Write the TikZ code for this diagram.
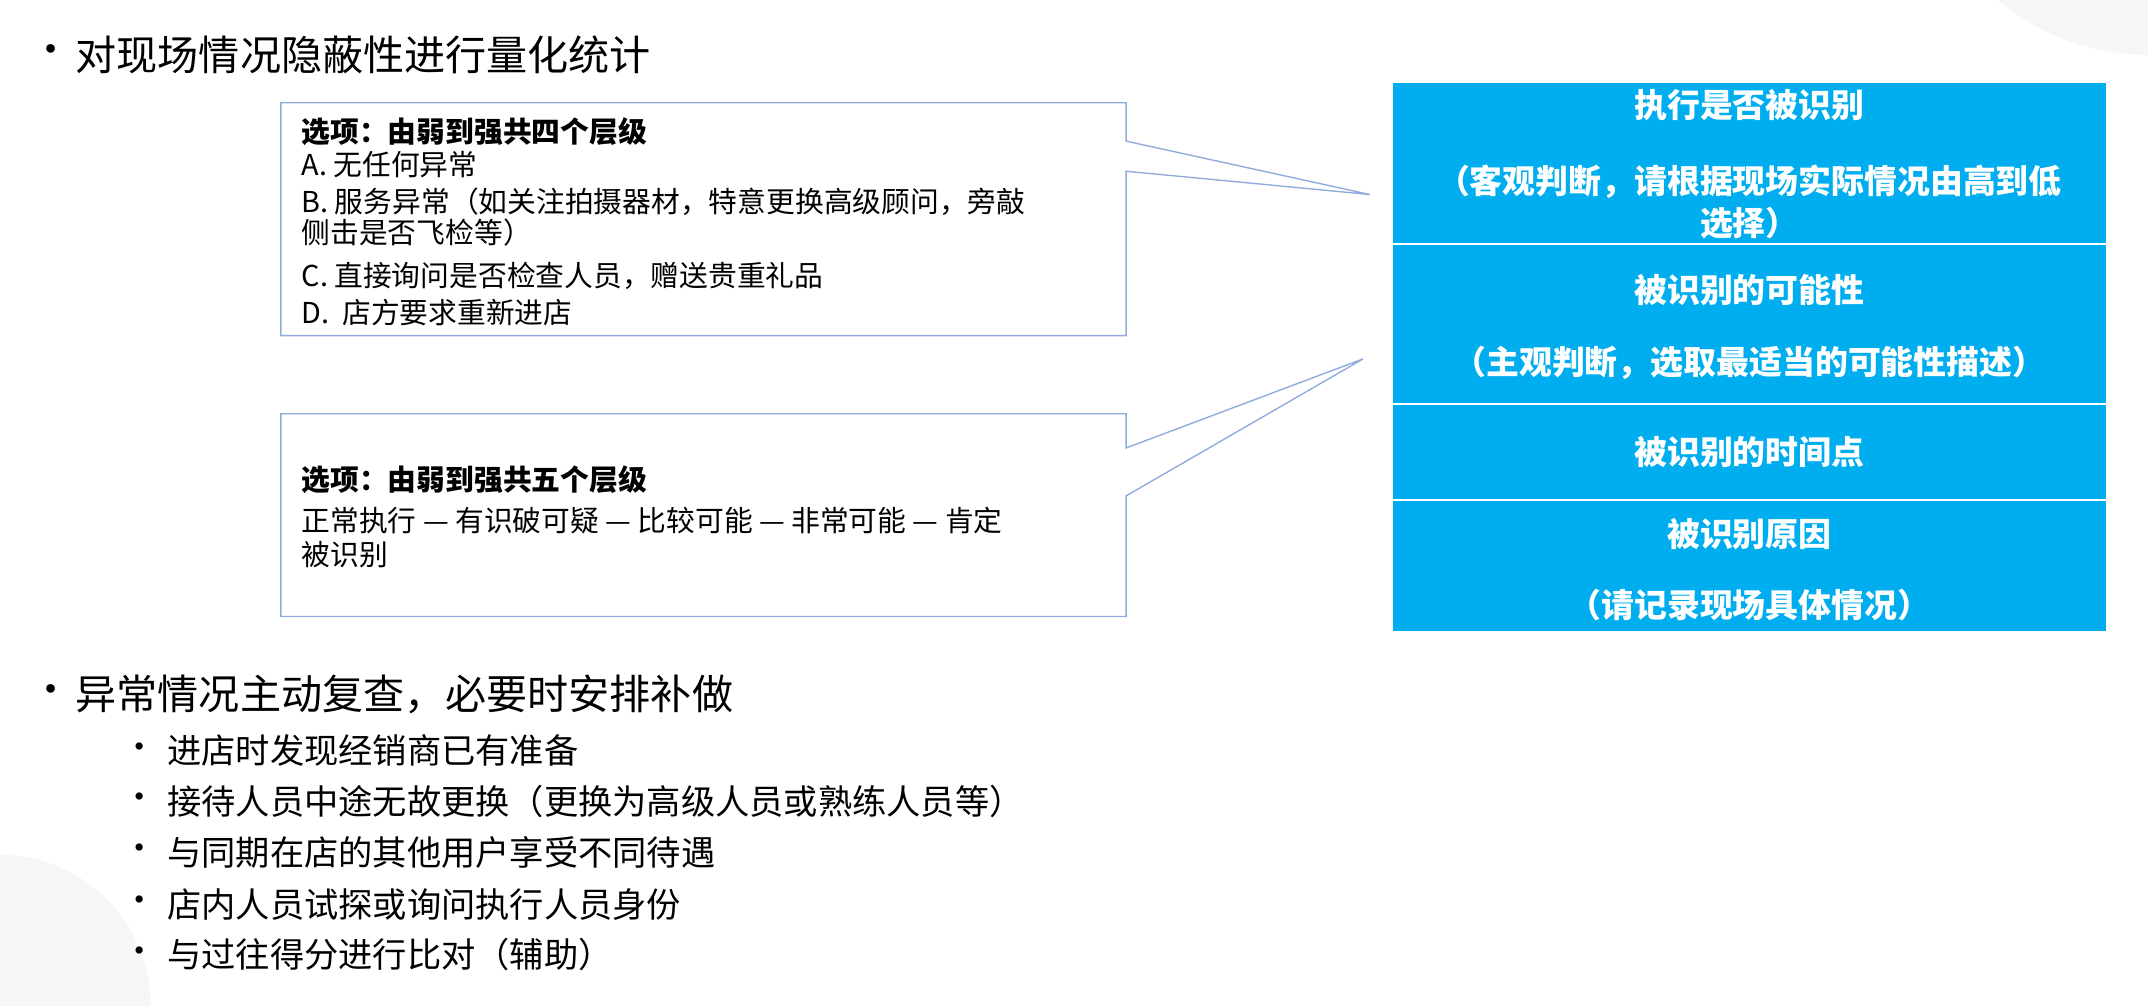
\documentclass[tikz,border=0pt]{standalone}
\usepackage{fontspec}
\setmainfont{Noto Sans CJK SC}
\begin{document}
\begin{tikzpicture}[x=1pt,y=-1pt,
  callout/.style={draw=cBorder,line width=1pt,fill=white},
  cell/.style={fill=cBlue,draw=white,line width=1pt},
  ct/.style={text=white,font=\fontsize{24}{28}\selectfont\bfseries,anchor=center},
  bt/.style={anchor=west,font=\fontsize{21}{24}\selectfont,inner sep=0},
  main/.style={anchor=west,font=\fontsize{30}{34}\selectfont,inner sep=0},
  sub/.style={anchor=west,font=\fontsize{25}{29}\selectfont,inner sep=0}]
\definecolor{cBlue}{HTML}{00AEEF}
\definecolor{cBorder}{HTML}{8FAADC}
\definecolor{cBg}{HTML}{F6F6F8}
\useasboundingbox (0,0) rectangle (1568,734);
\begin{scope}
\clip (0,0) rectangle (1568,734);
\fill[cBg] (1568,-130) circle[radius=170];
\fill[cBg] (0,734) circle[radius=110];
\end{scope}
% bullets
\node[main] (bb1) at (22,40) {•};
\node[main] (b1) at (55,40) {对现场情况隐蔽性进行量化统计};
\node[main] (bb2) at (22,507) {•};
\node[main] (b2) at (55,507) {异常情况主动复查，必要时安排补做};
\foreach \yy/\t [count=\i] in {548/进店时发现经销商已有准备,585/接待人员中途无故更换（更换为高级人员或熟练人员等）,622/与同期在店的其他用户享受不同待遇,660/店内人员试探或询问执行人员身份,697/与过往得分进行比对（辅助）}{
  \node[sub] (sb\i) at (89,\yy) {•};
  \node[sub] (s\i) at (122,\yy) {\t};}
% blue cells
\node[cell,minimum width=522pt,minimum height=118pt,inner sep=0] (c1) at (1277,119) {};
\node[cell,minimum width=522pt,minimum height=117pt,inner sep=0] (c2) at (1277,236.5) {};
\node[cell,minimum width=522pt,minimum height=70pt,inner sep=0] (c3) at (1277,330) {};
\node[cell,minimum width=522pt,minimum height=96pt,inner sep=0] (c4) at (1277,413) {};
\node[ct] (t1) at (1277,77) {执行是否被识别};
\node[ct] (t1b) at (1277,133) {（客观判断，请根据现场实际情况由高到低};
\node[ct] (t1c) at (1277,163) {选择）};
\node[ct] (t2) at (1277,212) {被识别的可能性};
\node[ct] (t2b) at (1277,265) {（主观判断，选取最适当的可能性描述）};
\node[ct] (t3) at (1277,330) {被识别的时间点};
\node[ct] (t4) at (1277,390) {被识别原因};
\node[ct] (t4b) at (1277,442) {（请记录现场具体情况）};
% callouts
\coordinate (tip1) at (1000,142);
\coordinate (tip2) at (995,262);
\draw[callout] (205,75) -- (822,75) -- (822,103) -- (tip1) -- (822,125) -- (822,245) -- (205,245) -- cycle;
\draw[callout] (205,302) -- (822,302) -- (822,327) -- (tip2) -- (822,362) -- (822,450) -- (205,450) -- cycle;
\node[bt] (o1) at (220,96) {\bfseries 选项：由弱到强共四个层级};
\node[bt] (o2) at (220,120) {A. 无任何异常};
\node[bt] (o3) at (220,147) {B. 服务异常（如关注拍摄器材，特意更换高级顾问，旁敲};
\node[bt] (o4) at (220,170) {侧击是否飞检等）};
\node[bt] (o5) at (220,201) {C. 直接询问是否检查人员，赠送贵重礼品};
\node[bt] (o6) at (220,228) {D.\ \ 店方要求重新进店};
\node[bt] (p1) at (220,350) {\bfseries 选项：由弱到强共五个层级};
\node[bt] (p2) at (220,380) {正常执行 — 有识破可疑 — 比较可能 — 非常可能 — 肯定};
\node[bt] (p3) at (220,405) {被识别};
\end{tikzpicture}
\end{document}
